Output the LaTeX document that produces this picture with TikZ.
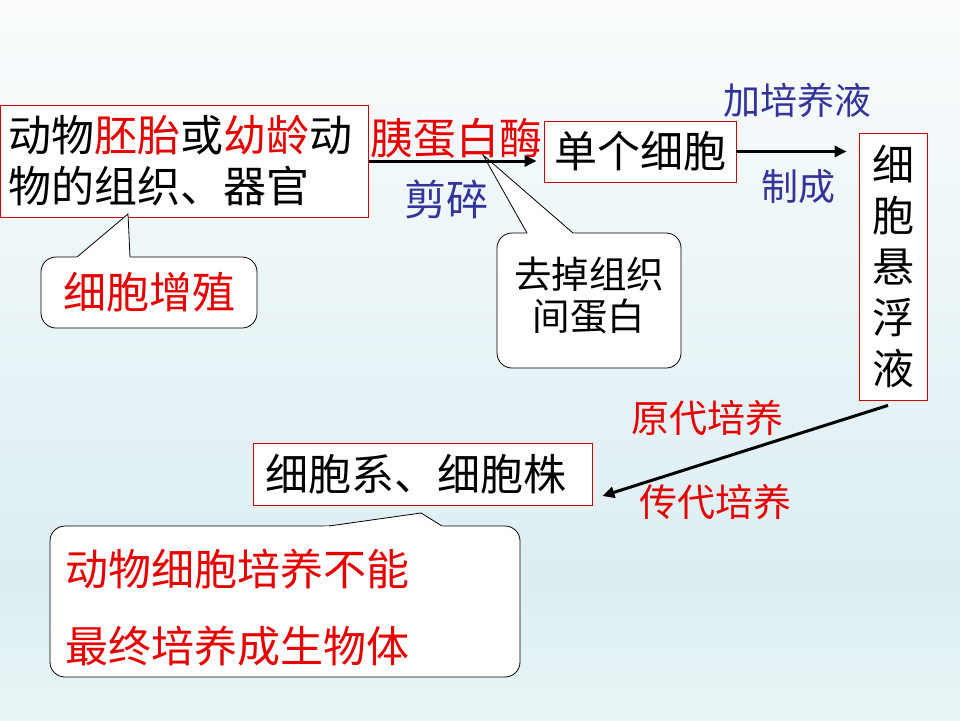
\documentclass[tikz,border=0pt]{standalone}
\usepackage{fontspec}
\setmainfont{Noto Sans CJK SC}
\usetikzlibrary{positioning,arrows.meta,calc}
\definecolor{boxred}{HTML}{CC0000}
\definecolor{txtred}{HTML}{E60000}
\definecolor{navy}{HTML}{333399}
\definecolor{bgtop}{HTML}{FAFCFD}
\definecolor{bgmid}{HTML}{DCEEF2}
\definecolor{bgbot}{HTML}{E9F5F6}

\begin{document}
\begin{tikzpicture}[x=1pt,y=-1pt,box/.style={draw=boxred,line width=0.8pt,fill=white,inner sep=0pt,font=\fontsize{43}{51}\selectfont},bubble/.style={draw=black,line width=0.8pt,fill=white,rounded corners=15pt,inner sep=0pt},lab/.style={inner sep=0pt,font=\fontsize{37}{44}\selectfont},flow/.style={-{Triangle[length=12pt,width=11pt]},line width=3pt}]
\useasboundingbox (0,0) rectangle (960,720);
\shade[top color=bgtop,bottom color=bgmid] (0,0) rectangle (960,580);
\shade[top color=bgmid,bottom color=bgbot] (0,580) rectangle (960,720);
\node[box,minimum width=368pt,minimum height=112pt,text width=352pt,align=left] (tissue) at (184.5,161) {动物{\color{txtred}胚胎}或{\color{txtred}幼龄}动\\物的组织、器官};
\node[box,minimum width=192pt,minimum height=61pt] (cell) at (640,151.5) {单个细胞};
\node[box,minimum width=68pt,minimum height=267pt,align=center,font=\fontsize{42}{51}\selectfont] (suspension) at (893,266.5) {细\\胞\\悬\\浮\\液};
\node[box,minimum width=339pt,minimum height=62pt,text width=315pt,align=left] (cellline) at (422.5,474) {细胞系、细胞株};
\node[bubble,minimum width=216pt,minimum height=71pt,text=txtred,font=\fontsize{43}{50}\selectfont] (prolif) at (149,292.5) {细胞增殖};
\fill[white] (128,214) -- ($(128,214)!1.3!(77,257)$) -- ($(128,214)!1.3!(130,257)$) -- cycle;
\draw[line width=0.8pt] (77,257) -- (128,214) -- (130,257);
\node[bubble,minimum width=184pt,minimum height=135pt,align=center,font=\fontsize{37.5}{42}\selectfont] (removal) at (589,300.5) {去掉组织\\间蛋白\rule[-14pt]{0pt}{1pt}};
\fill[white] (483,155) -- ($(483,155)!1.3!(527,233)$) -- ($(483,155)!1.3!(573,233)$) -- cycle;
\draw[line width=0.8pt] (527,233) -- (483,155) -- (573,233);
\node[bubble,minimum width=470pt,minimum height=151pt,text width=440pt,align=left,text=txtred,font=\fontsize{43}{77}\selectfont] (limit) at (285,601.5) {\rule{0pt}{48pt}动物细胞培养不能\\最终培养成生物体};
\fill[white] (421,513) -- ($(421,513)!1.3!(329,526)$) -- ($(421,513)!1.3!(442,526)$) -- cycle;
\draw[line width=0.8pt] (329,526) -- (421,513) -- (442,526);
\node[lab,text=txtred,font=\fontsize{43}{50}\selectfont] (enzyme) at (456,138) {胰蛋白酶};
\node[lab,text=navy,font=\fontsize{42}{50}\selectfont] (mince) at (446,200) {剪碎};
\node[lab,text=navy] (medium) at (797.5,100) {加培养液};
\node[lab,text=navy] (make) at (798,187) {制成};
\node[lab,text=txtred,font=\fontsize{38}{44}\selectfont] (primary) at (707.5,418) {原代培养};
\node[lab,text=txtred,font=\fontsize{38}{44}\selectfont] (passage) at (715.5,502) {传代培养};
\coordinate (susp end) at ([shift={(-5,5)}]suspension.south);
\coordinate (line end) at ([shift={(10,22)}]cellline.east);
\draw[flow,shorten >=7pt] (tissue.east) -- (tissue.east -| cell.west);
\draw[flow,shorten >=12pt] (cell.east) -- (cell.east -| suspension.west);
\draw[flow] (susp end) -- (line end);
\end{tikzpicture}
\end{document}
